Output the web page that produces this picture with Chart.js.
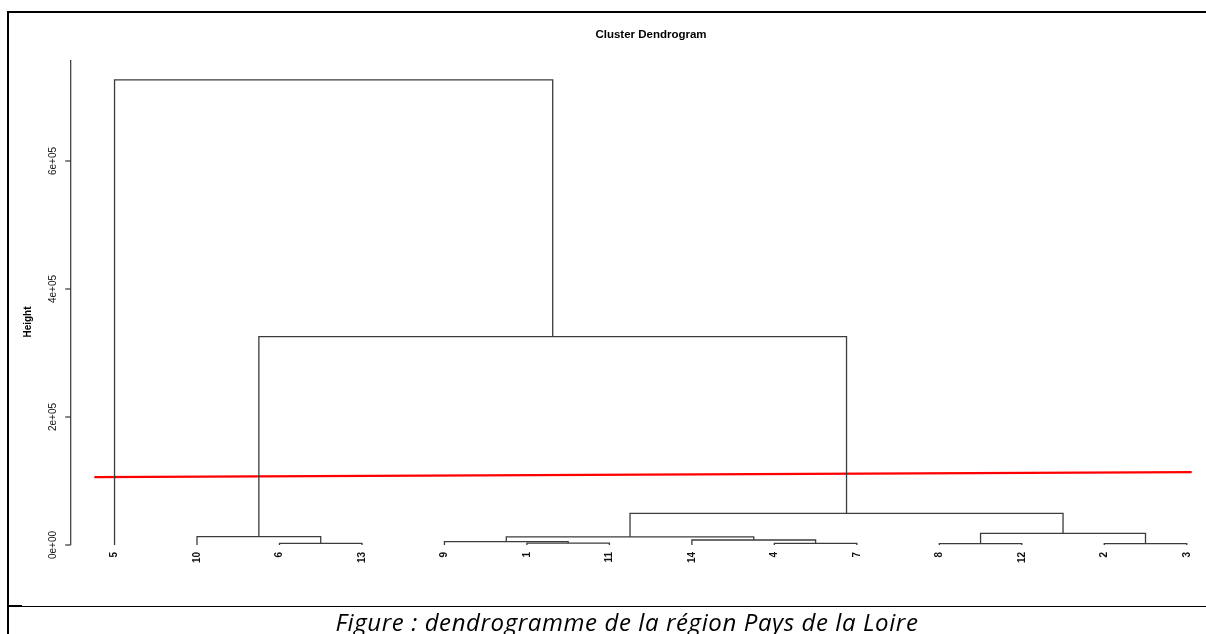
<!DOCTYPE html>
<html lang="fr">
<head>
<meta charset="utf-8">
<title>Cluster Dendrogram</title>
<script src="https://cdn.jsdelivr.net/npm/chart.js@4/dist/chart.umd.min.js"></script>
<style>
  html, body { margin: 0; padding: 0; background: #fff; }
  #wrap { position: relative; width: 1206px; height: 634px; overflow: hidden; background: #fff; }
  #chart { position: absolute; left: 0; top: 0; }
  .rule { position: absolute; background: #000; }
  #caption {
    position: absolute; left: 0; width: 1254px; top: 610px;
    text-align: center; font: italic 24px/24px "Open Sans", "Liberation Sans", sans-serif;
    letter-spacing: 0.6px; color: #000; white-space: nowrap;
  }
</style>
</head>
<body>
<div id="wrap">
  <canvas id="chart" width="1206" height="634"></canvas>
  <div class="rule" style="left:7px; top:11px; width:1199px; height:2px;"></div>
  <div class="rule" style="left:7px; top:11px; width:2px; height:623px;"></div>
  <div class="rule" style="left:7px; top:606px; width:1199px; height:1px;"></div>
  <div class="rule" style="left:8px; top:605px; width:14px; height:2px;"></div>
  <div id="caption">Figure : dendrogramme de la région Pays de la Loire</div>
</div>
<script>
// Leaf labels in the order they appear along the axis
const leafLabels = ['5', '10', '6', '13', '9', '1', '11', '14', '4', '7', '8', '12', '2', '3'];

// Agglomeration steps (hclust style): negative = observation number, positive = earlier step
const mergeLeft   = [-6, -1, -4, -8, -2, -9, -14, -10, 6, 4, 9, 8, -5];
const mergeRight  = [-13, -11, -7, -12, -3, 2, 3, 1, 7, 5, 10, 11, 12];
const mergeHeight = [2600, 2800, 2400, 2300, 2200, 5200, 7800, 13000, 12700, 18200, 49500, 325500, 726600];

// Cut line across the tree
const cutLineX = [0.755, 14.06];
const cutLineY = [106000, 114000];

// Height axis
const yTickValues = [0, 200000, 400000, 600000];
const yTickLabels = ['0e+00', '2e+05', '4e+05', '6e+05'];

// Position and height of every node of the tree
function nodeInfo(ref, built) {
  if (ref < 0) {
    return { x: leafLabels.indexOf(String(-ref)) + 1, h: 0 };
  }
  return built[ref - 1];
}

const built = [];
const linkDatasets = [];
for (let i = 0; i < mergeHeight.length; i++) {
  const a = nodeInfo(mergeLeft[i], built);
  const b = nodeInfo(mergeRight[i], built);
  const h = mergeHeight[i];
  built.push({ x: (a.x + b.x) / 2, h: h });
  linkDatasets.push({
    data: [{ x: a.x, y: a.h }, { x: a.x, y: h }, { x: b.x, y: h }, { x: b.x, y: b.h }],
    showLine: true,
    borderColor: '#3c3c3c',
    borderWidth: 1.3,
    pointRadius: 0,
    tension: 0,
    clip: false
  });
}

const cutDataset = {
  data: cutLineX.map((x, i) => ({ x: x, y: cutLineY[i] })),
  showLine: true,
  borderColor: '#ff0000',
  borderWidth: 2.2,
  pointRadius: 0,
  clip: false
};

// Axis, labels and title drawn in the R graphics style
const dendroDecor = {
  id: 'dendroDecor',
  afterDraw(chart) {
    const ctx = chart.ctx;
    const area = chart.chartArea;
    const xs = chart.scales.x;
    const ys = chart.scales.y;
    ctx.save();

    // Title
    ctx.fillStyle = '#000';
    ctx.font = 'bold 11.5px "Liberation Sans", Arial, sans-serif';
    ctx.textAlign = 'center';
    ctx.textBaseline = 'middle';
    ctx.fillText('Cluster Dendrogram', 651, 35);

    // Vertical axis line and ticks
    const axX = area.left + 0.7;
    ctx.strokeStyle = '#333';
    ctx.lineWidth = 1.2;
    ctx.beginPath();
    ctx.moveTo(axX, area.top);
    ctx.lineTo(axX, ys.getPixelForValue(0));
    ctx.stroke();
    ctx.font = '10px "Liberation Sans", Arial, sans-serif';
    yTickValues.forEach((v, i) => {
      const py = ys.getPixelForValue(v);
      ctx.beginPath();
      ctx.moveTo(axX, py);
      ctx.lineTo(axX - 5.5, py);
      ctx.stroke();
      ctx.save();
      ctx.translate(53, py);
      ctx.rotate(-Math.PI / 2);
      ctx.textAlign = 'center';
      ctx.textBaseline = 'middle';
      ctx.fillStyle = '#111';
      ctx.fillText(yTickLabels[i], 0, 0);
      ctx.restore();
    });

    // Axis title
    ctx.save();
    ctx.translate(28, 322);
    ctx.rotate(-Math.PI / 2);
    ctx.font = 'bold 10px "Liberation Sans", Arial, sans-serif';
    ctx.textAlign = 'center';
    ctx.textBaseline = 'middle';
    ctx.fillStyle = '#000';
    ctx.fillText('Height', 0, 0);
    ctx.restore();

    // Leaf labels hanging below each leaf
    ctx.font = 'bold 10px "Liberation Sans", Arial, sans-serif';
    ctx.fillStyle = '#111';
    leafLabels.forEach((lab, i) => {
      const px = xs.getPixelForValue(i + 1);
      ctx.save();
      ctx.translate(px, ys.getPixelForValue(0) + 7);
      ctx.rotate(-Math.PI / 2);
      ctx.textAlign = 'right';
      ctx.textBaseline = 'middle';
      ctx.fillText(lab, 0, 0);
      ctx.restore();
    });

    ctx.restore();
  }
};

new Chart(document.getElementById('chart'), {
  type: 'scatter',
  data: { datasets: linkDatasets.concat([cutDataset]) },
  options: {
    responsive: false,
    animation: false,
    events: [],
    layout: { padding: { left: 70, right: 11, top: 60, bottom: 89 } },
    plugins: { legend: { display: false }, tooltip: { enabled: false }, title: { display: false } },
    scales: {
      x: { type: 'linear', min: 0.46, max: 14.1, display: false },
      y: { type: 'linear', min: 0, max: 757800, display: false }
    }
  },
  plugins: [dendroDecor]
});
</script>
</body>
</html>
